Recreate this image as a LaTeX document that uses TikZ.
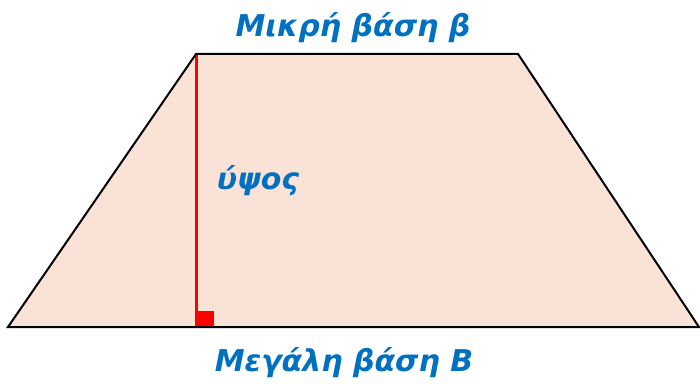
\documentclass[tikz,border=0pt]{standalone}
\usepackage{fontspec}
\setmainfont{DejaVu Sans}
\definecolor{peach}{RGB}{251,226,214}
\definecolor{lblue}{RGB}{0,112,192}
\begin{document}
\begin{tikzpicture}[x=1pt,y=-1pt,
  lbl/.style={text=lblue,font=\fontsize{30}{33}\selectfont\bfseries\itshape,inner sep=0pt},
  edge/.style={draw=black,line width=2pt,line join=miter}]
\useasboundingbox (0,0) rectangle (700,390);
\coordinate (A) at (8,327);
\coordinate (B) at (699,327);
\coordinate (C) at (518,54);
\coordinate (D) at (196,54);
\coordinate (H) at (196,327);
\fill[peach] (A) -- (B) -- (C) -- (D) -- cycle;
\draw[red,line width=3pt] (D) -- (H);
\node[fill=red,minimum width=16pt,minimum height=16pt,inner sep=0pt,anchor=south west] (sq) at (198,327) {};
\draw[edge] (A) -- (B) -- (C) -- (D) -- cycle;
\node[lbl] (top) at (353,28) {Μικρή βάση β};
\node[lbl] (bot) at (344,363) {Μεγάλη βάση Β};
\node[lbl] (h) at (258,181) {ύψος};
\end{tikzpicture}
\end{document}
